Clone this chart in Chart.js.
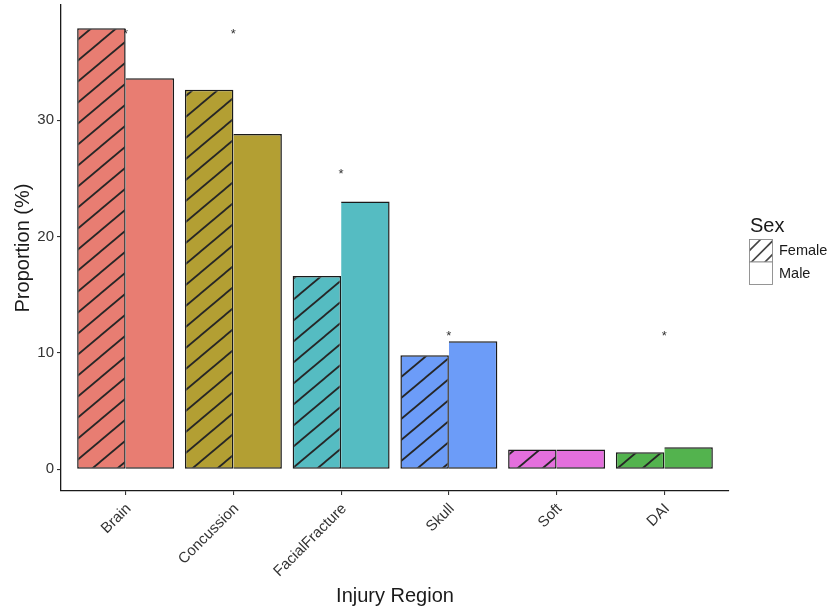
<!DOCTYPE html>
<html>
<head>
<meta charset="utf-8">
<script src="https://cdn.jsdelivr.net/npm/chart.js@4.4.1/dist/chart.umd.min.js"></script>
<style>
  html, body { margin: 0; padding: 0; background: #ffffff; }
  #wrap { width: 835px; height: 609px; }
</style>
</head>
<body>
<div id="wrap"><canvas id="chart" width="835" height="609"></canvas></div>
<script>
// Injury regions and proportions (%) by sex
const regions = ['Brain', 'Concussion', 'FacialFracture', 'Skull', 'Soft', 'DAI'];
const femaleValues = [37.9, 32.6, 16.6, 9.8, 1.7, 1.45];
const maleValues = [33.6, 28.8, 23.0, 11.0, 1.7, 1.9];
const regionColors = ['#E87D72', '#B39F33', '#55BCC2', '#6C9CF8', '#E46FDD', '#53B34E'];
// Significance markers: region index (1-based) and height
const starRegions = [1, 2, 3, 4, 6];
const starValues = [37.7, 37.7, 25.7, 11.7, 11.7];
const yTicks = [0, 10, 20, 30];

const FONT = "'Liberation Sans', Arial, Helvetica, sans-serif";

// Diagonal hatch pattern over a base colour
function hatchPattern(base, lineColor, width) {
  const W = 25, H = 21;
  const c = document.createElement('canvas');
  c.width = W; c.height = H;
  const g = c.getContext('2d');
  if (base) { g.fillStyle = base; g.fillRect(0, 0, W, H); }
  g.strokeStyle = lineColor;
  g.lineWidth = width || 1.8;
  for (let k = -1; k <= 1; k++) {
    g.beginPath();
    g.moveTo(-W, 2 * H + k * H);
    g.lineTo(2 * W, -H + k * H);
    g.stroke();
  }
  return g.createPattern(c, 'repeat');
}

const femaleFills = regionColors.map(col => hatchPattern(col, '#262626'));

const femaleData = regions.map((r, i) => ({ x: i + 1, y: femaleValues[i] }));
const maleData = regions.map((r, i) => ({ x: i + 1, y: maleValues[i] }));

// Asterisks drawn behind the bars
const starPlugin = {
  id: 'stars',
  beforeDatasetsDraw(chart) {
    const { ctx, scales } = chart;
    const size = 13;
    ctx.save();
    ctx.fillStyle = '#333333';
    ctx.font = size + 'px ' + FONT;
    ctx.textAlign = 'center';
    ctx.textBaseline = 'alphabetic';
    starRegions.forEach((r, i) => {
      const px = scales.x.getPixelForValue(r);
      const py = scales.y.getPixelForValue(starValues[i]);
      ctx.fillText('*', px, py + size * 0.57);
    });
    ctx.restore();
  }
};

// Legend for sex with hatched key
const sexLegend = {
  id: 'sexLegend',
  afterDraw(chart) {
    const { ctx } = chart;
    ctx.save();
    ctx.fillStyle = '#1a1a1a';
    ctx.font = '20px ' + FONT;
    ctx.textAlign = 'left';
    ctx.textBaseline = 'alphabetic';
    ctx.fillText('Sex', 750, 232);

    const kx = 749.5, kw = 23, kh = 22.5;
    const keys = [
      { label: 'Female', y: 239.5, hatch: true },
      { label: 'Male', y: 262, hatch: false }
    ];
    keys.forEach(k => {
      ctx.fillStyle = '#ffffff';
      ctx.fillRect(kx, k.y, kw, kh);
      if (k.hatch) {
        ctx.save();
        ctx.beginPath();
        ctx.rect(kx, k.y, kw, kh);
        ctx.clip();
        ctx.strokeStyle = '#444444';
        ctx.lineWidth = 1.6;
        [11, 24.5, 38].forEach(off => {
          ctx.beginPath();
          ctx.moveTo(kx - 5, k.y + off + 5);
          ctx.lineTo(kx + kw + 5, k.y + off - kw - 5);
          ctx.stroke();
        });
        ctx.restore();
      }
      ctx.strokeStyle = '#8a8a8a';
      ctx.lineWidth = 0.9;
      ctx.strokeRect(kx, k.y, kw, kh);
      ctx.fillStyle = '#1a1a1a';
      ctx.font = '14.5px ' + FONT;
      ctx.textBaseline = 'middle';
      ctx.fillText(k.label, 779, k.y + kh / 2 + 0.5);
    });
    ctx.restore();
  }
};

const tickGrid = {
  display: true,
  offset: false,
  drawOnChartArea: false,
  drawTicks: true,
  tickLength: 4,
  color: '#333333',
  lineWidth: 1.1
};
const axisBorder = { display: true, color: '#1a1a1a', width: 1.3 };

new Chart(document.getElementById('chart'), {
  type: 'bar',
  data: {
    datasets: [
      {
        label: 'Female',
        data: femaleData,
        backgroundColor: femaleFills,
        borderColor: '#1a1a1a',
        borderWidth: 1.5,
        borderSkipped: false,
        categoryPercentage: 0.9,
        barPercentage: 1.0
      },
      {
        label: 'Male',
        data: maleData,
        backgroundColor: regionColors,
        borderColor: '#1a1a1a',
        borderWidth: 1.5,
        borderSkipped: 'left',
        categoryPercentage: 0.9,
        barPercentage: 1.0
      }
    ]
  },
  options: {
    responsive: false,
    animation: false,
    layout: { padding: { left: 0, top: 5, right: 106, bottom: 0 } },
    plugins: {
      legend: { display: false },
      tooltip: { enabled: false }
    },
    scales: {
      x: {
        type: 'linear',
        min: 0.4,
        max: 6.6,
        offset: false,
        grid: tickGrid,
        border: axisBorder,
        afterBuildTicks(scale) {
          scale.ticks = regions.map((r, i) => ({ value: i + 1 }));
        },
        afterFit(scale) {
          scale.height = 118;
          scale.paddingLeft = 0;
          scale.paddingRight = 0;
        },
        ticks: {
          autoSkip: false,
          minRotation: 45,
          maxRotation: 45,
          padding: 5,
          labelOffset: 3,
          color: '#333333',
          font: { family: FONT, size: 15 },
          callback: (v) => regions[Math.round(v) - 1] || ''
        },
        title: {
          display: true,
          text: 'Injury Region',
          color: '#1a1a1a',
          font: { family: FONT, size: 20 },
          padding: { top: 0, bottom: 1 }
        }
      },
      y: {
        min: -1.87,
        max: 39.89,
        grid: tickGrid,
        border: axisBorder,
        afterBuildTicks(scale) {
          scale.ticks = yTicks.map(v => ({ value: v }));
        },
        afterFit(scale) {
          scale.width = 61;
          scale.paddingTop = 0;
          scale.paddingBottom = 0;
        },
        ticks: {
          padding: 3,
          color: '#333333',
          font: { family: FONT, size: 15 },
          callback: (v) => String(v)
        },
        title: {
          display: true,
          text: 'Proportion (%)',
          color: '#1a1a1a',
          font: { family: FONT, size: 20 },
          padding: { top: 11, bottom: 0 }
        }
      }
    }
  },
  plugins: [starPlugin, sexLegend]
});
</script>
</body>
</html>
